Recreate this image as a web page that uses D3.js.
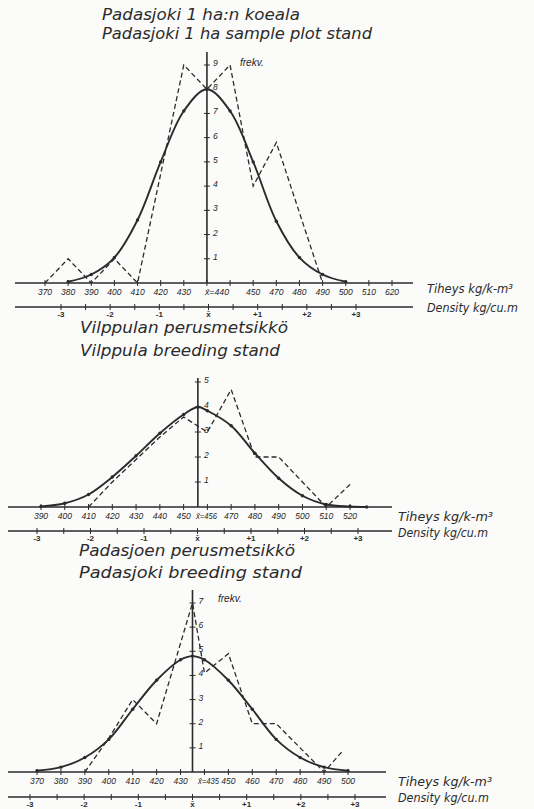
<!DOCTYPE html>
<html>
<head>
<meta charset="utf-8">
<script src="https://cdn.jsdelivr.net/npm/d3@7"></script>
<style>
  body { margin: 0; background: #fbfbfa; }
  svg { display: block; font-family: "DejaVu Sans", sans-serif; }
  .title { font-size: 15px; font-style: italic; fill: #2b2b2b; }
  .tick-lbl { font-family: "Liberation Sans", sans-serif; font-size: 8.5px; font-style: italic; fill: #1f1f1f; }
  .sig-lbl { font-family: "Liberation Sans", sans-serif; font-size: 8px; font-weight: bold; fill: #2b2b2b; }
  .unit-lbl { font-size: 12px; font-style: italic; fill: #2b2b2b; }
</style>
</head>
<body>
<svg id="chart" width="534" height="809"></svg>
<script>
// ---- Padasjoki 1 ha sample plot stand ----
const p1TickKg = [370, 380, 390, 400, 410, 420, 430, 440, 450, 460, 470, 480, 490, 500, 510, 520];
const p1TickText = ["370", "380", "390", "400", "410", "420", "430", "", "", "450", "470", "480", "490", "500", "510", "620"];
const p1FreqTicks = [1, 2, 3, 4, 5, 6, 7, 8, 9];
const p1FitKg = [380, 390, 400, 410, 420, 430, 440, 450, 460, 470, 480, 490, 500];
const p1Fit = [0.05, 0.35, 1.05, 2.6, 5.0, 7.1, 8.0, 7.1, 5.0, 2.55, 1.05, 0.35, 0.05];
const p1ObsKg = [370, 380, 390, 400, 410, 420, 430, 440, 450, 460, 470, 480, 490];
const p1Obs = [0, 1, 0, 1, 0, 4.5, 9, 8, 9, 4, 5.8, 2.9, 0];

// ---- Vilppula breeding stand ----
const p2TickKg = [390, 400, 410, 420, 430, 440, 450, 460, 470, 480, 490, 500, 510, 520];
const p2TickText = ["390", "400", "410", "420", "430", "440", "450", "", "470", "480", "490", "500", "510", "520"];
const p2FreqTicks = [1, 2, 3, 4, 5];
const p2FitKg = [390, 400, 410, 420, 430, 440, 450, 456, 460, 470, 480, 490, 500, 510, 520, 527];
const p2Fit = [0.02, 0.15, 0.5, 1.2, 2.05, 2.95, 3.7, 4.0, 3.85, 3.25, 2.15, 1.15, 0.45, 0.1, 0.02, 0];
const p2ObsKg = [410, 420, 430, 440, 450, 460, 470, 480, 490, 500, 510, 520];
const p2Obs = [0, 1.0, 1.9, 2.8, 3.6, 3.0, 4.7, 2.0, 2.0, 1.0, 0, 0.9];

// ---- Padasjoki breeding stand ----
const p3TickKg = [370, 380, 390, 400, 410, 420, 430, 440, 450, 460, 470, 480, 490, 500];
const p3TickText = ["370", "380", "390", "400", "410", "420", "430", "", "450", "460", "470", "480", "490", "500"];
const p3FreqTicks = [1, 2, 3, 4, 5, 6, 7];
const p3FitKg = [370, 380, 390, 400, 410, 420, 430, 435, 440, 450, 460, 470, 480, 490, 500];
const p3Fit = [0.05, 0.2, 0.6, 1.35, 2.6, 3.8, 4.65, 4.8, 4.65, 3.8, 2.6, 1.35, 0.6, 0.2, 0.05];
const p3ObsKg = [390, 400, 410, 420, 435, 440, 450, 460, 470, 480, 490, 498];
const p3Obs = [0, 1.4, 3, 2, 7, 4.1, 4.9, 2, 2, 1, 0, 0.9];

// standard deviation scale (shared)
const sigmaTicks = [-3, -2.5, -2, -1.5, -1, -0.5, 0, 0.5, 1, 1.5, 2, 2.5, 3];
const sigmaText = { "-3": "-3", "-2": "-2", "-1": "-1", "0": "x\u0304", "1": "+1", "2": "+2", "3": "+3" };

(function () {
  const svg = d3.select("#chart");
  const ink = "#2b2b2b";

  const panels = [
    {
      titles: ["Padasjoki  1 ha:n  koeala", "Padasjoki  1 ha  sample plot stand"],
      titleX: 102, titleY: [20, 39], titleW: [198, 270],
      kgDomain: [370, 520], kgRange: [45, 392], mean: 440, meanText: "x\u0304=440", meanLblX: 205, meanLblW: 24,
      ticks: p1TickKg, tickText: p1TickText,
      axisY: 283, lineX: [15, 413], densY: 307, sigmaRange: [61, 356],
      freqMax: 9, freqTopY: 65, vTop: 52, freqTicks: p1FreqTicks, frekv: [240, 66],
      fitKg: p1FitKg, fit: p1Fit, obsKg: p1ObsKg, obs: p1Obs,
      unitX: 427, unitY: [293, 312], unitW: [86, 91]
    },
    {
      titles: ["Vilppulan  perusmetsikkö", "Vilppula  breeding stand"],
      titleX: 80, titleY: [333, 356], titleW: [208, 200],
      kgDomain: [390, 520], kgRange: [41, 350], mean: 456, meanText: "x\u0304=456", meanLblX: 196, meanLblW: 21,
      ticks: p2TickKg, tickText: p2TickText,
      axisY: 507, lineX: [8, 392], densY: 531, sigmaRange: [37, 358],
      freqMax: 5, freqTopY: 382, vTop: 378, freqTicks: p2FreqTicks, frekv: null,
      fitKg: p2FitKg, fit: p2Fit, obsKg: p2ObsKg, obs: p2Obs,
      unitX: 398, unitY: [521, 537], unitW: [95, 90]
    },
    {
      titles: ["Padasjoen  perusmetsikkö", "Padasjoki breeding stand"],
      titleX: 79, titleY: [556, 578], titleW: [216, 223],
      kgDomain: [370, 500], kgRange: [37, 348], mean: 435, meanText: "x\u0304=435", meanLblX: 198, meanLblW: 21,
      ticks: p3TickKg, tickText: p3TickText,
      axisY: 772, lineX: [8, 386], densY: 797, sigmaRange: [30, 355],
      freqMax: 7, freqTopY: 603, vTop: 590, freqTicks: p3FreqTicks, frekv: [218, 602],
      fitKg: p3FitKg, fit: p3Fit, obsKg: p3ObsKg, obs: p3Obs,
      unitX: 398, unitY: [786, 802], unitW: [94, 91]
    }
  ];

  panels.forEach(drawPanel);

  function drawPanel(p) {
    const x = d3.scaleLinear().domain(p.kgDomain).range(p.kgRange);
    const s = d3.scaleLinear().domain([-3, 3]).range(p.sigmaRange);
    const y = d3.scaleLinear().domain([0, p.freqMax]).range([p.axisY, p.freqTopY]);
    const g = svg.append("g");
    const ax = x(p.mean);

    // titles
    p.titles.forEach((t, i) => {
      g.append("text")
        .attr("class", "title")
        .attr("x", p.titleX)
        .attr("y", p.titleY[i])
        .attr("textLength", p.titleW[i])
        .attr("lengthAdjust", "spacingAndGlyphs")
        .text(t);
    });

    // density (kg) axis
    g.append("line")
      .attr("x1", p.lineX[0]).attr("x2", p.lineX[1])
      .attr("y1", p.axisY).attr("y2", p.axisY)
      .attr("stroke", ink).attr("stroke-width", 1.6);

    g.selectAll("line.kg-tick")
      .data(p.ticks)
      .enter()
      .append("line")
      .attr("class", "kg-tick")
      .attr("x1", d => x(d)).attr("x2", d => x(d))
      .attr("y1", p.axisY - 3).attr("y2", p.axisY + 3)
      .attr("stroke", ink).attr("stroke-width", 1);

    g.selectAll("text.kg-lbl")
      .data(p.ticks.map((d, i) => ({ v: d, t: p.tickText[i] })).filter(d => d.t))
      .enter()
      .append("text")
      .attr("class", "tick-lbl")
      .attr("x", d => x(d.v))
      .attr("y", p.axisY + 12)
      .attr("text-anchor", "middle")
      .text(d => d.t);

    g.append("text")
      .attr("class", "tick-lbl")
      .attr("x", p.meanLblX)
      .attr("y", p.axisY + 12)
      .attr("textLength", p.meanLblW)
      .attr("lengthAdjust", "spacingAndGlyphs")
      .text(p.meanText);

    // sigma axis
    g.append("line")
      .attr("x1", p.lineX[0]).attr("x2", p.lineX[1])
      .attr("y1", p.densY).attr("y2", p.densY)
      .attr("stroke", ink).attr("stroke-width", 1.6);

    g.selectAll("line.s-tick")
      .data(sigmaTicks)
      .enter()
      .append("line")
      .attr("class", "s-tick")
      .attr("x1", d => s(d)).attr("x2", d => s(d))
      .attr("y1", p.densY - 3).attr("y2", p.densY + 3)
      .attr("stroke", ink).attr("stroke-width", 1);

    g.selectAll("text.s-lbl")
      .data(sigmaTicks.filter(d => sigmaText[String(d)]))
      .enter()
      .append("text")
      .attr("class", "sig-lbl")
      .attr("x", d => s(d))
      .attr("y", p.densY + 10)
      .attr("text-anchor", "middle")
      .text(d => sigmaText[String(d)]);

    // unit labels
    g.append("text").attr("class", "unit-lbl")
      .attr("x", p.unitX).attr("y", p.unitY[0])
      .attr("textLength", p.unitW[0]).attr("lengthAdjust", "spacingAndGlyphs")
      .text("Tiheys  kg/k-m\u00b3");
    g.append("text").attr("class", "unit-lbl")
      .attr("x", p.unitX).attr("y", p.unitY[1])
      .attr("textLength", p.unitW[1]).attr("lengthAdjust", "spacingAndGlyphs")
      .text("Density  kg/cu.m");

    // frequency axis
    g.append("line")
      .attr("x1", ax).attr("x2", ax)
      .attr("y1", p.vTop).attr("y2", p.axisY)
      .attr("stroke", ink).attr("stroke-width", 1.6);

    g.selectAll("line.f-tick")
      .data(p.freqTicks)
      .enter()
      .append("line")
      .attr("class", "f-tick")
      .attr("x1", ax - 3).attr("x2", ax + 3)
      .attr("y1", d => y(d)).attr("y2", d => y(d))
      .attr("stroke", ink).attr("stroke-width", 1);

    g.selectAll("text.f-lbl")
      .data(p.freqTicks)
      .enter()
      .append("text")
      .attr("class", "tick-lbl")
      .attr("x", ax + 6)
      .attr("y", d => y(d) + 1)
      .text(d => d);

    if (p.frekv) {
      g.append("text")
        .attr("class", "tick-lbl")
        .style("font-size", "10px")
        .attr("x", p.frekv[0]).attr("y", p.frekv[1])
        .text("frekv.");
    }

    // fitted normal curve
    const fitPts = p.fitKg.map((k, i) => [x(k), y(p.fit[i])]);
    g.append("path")
      .datum(fitPts)
      .attr("fill", "none")
      .attr("stroke", ink)
      .attr("stroke-width", 1.9)
      .attr("d", d3.line().curve(d3.curveCatmullRom.alpha(0.5)));

    g.selectAll("circle.fit-pt")
      .data(fitPts)
      .enter()
      .append("circle")
      .attr("class", "fit-pt")
      .attr("cx", d => d[0]).attr("cy", d => d[1])
      .attr("r", 1.7)
      .attr("fill", ink);

    // observed frequency polygon
    const obsPts = p.obsKg.map((k, i) => [x(k), y(p.obs[i])]);
    g.append("path")
      .datum(obsPts)
      .attr("fill", "none")
      .attr("stroke", ink)
      .attr("stroke-width", 1.3)
      .attr("stroke-dasharray", "5,3")
      .attr("d", d3.line());
  }
})();
</script>
</body>
</html>
